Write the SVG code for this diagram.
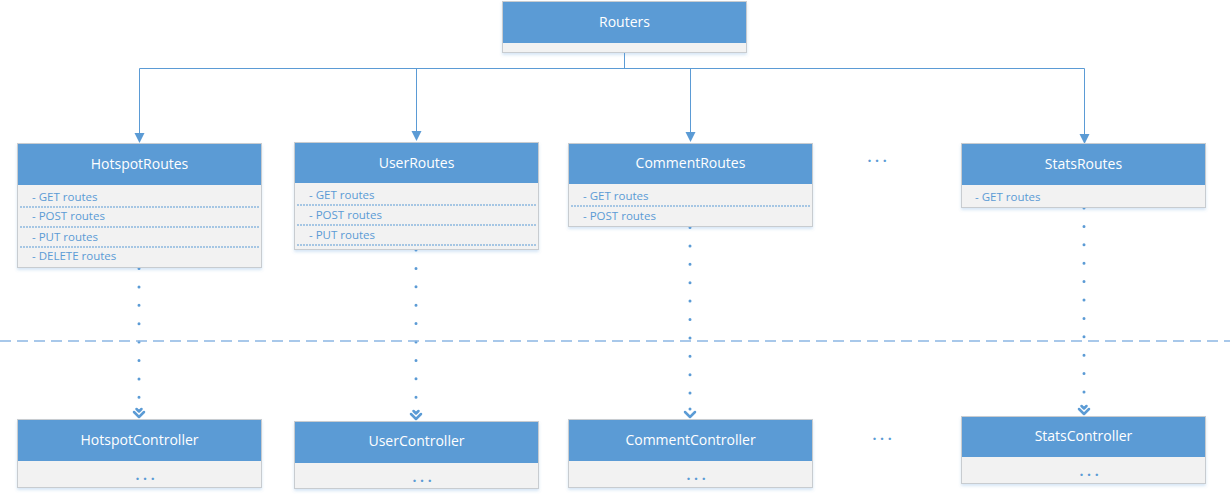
<svg xmlns="http://www.w3.org/2000/svg" width="1230" height="497" viewBox="0 0 1230 497">
<defs>
<style>
.hd{fill:#5B9BD5;}
.bd{fill:#F2F2F2;}
.fr{fill:none;stroke:#C8CCD0;stroke-width:1;}
.tt{font-family:"Open Sans","Noto Sans",sans-serif;font-size:14px;fill:#FFFFFF;text-anchor:middle;}
.rw{font-family:"Open Sans","Noto Sans",sans-serif;font-size:11.5px;fill:#5B9BD5;}
.el{font-family:"Open Sans","Noto Sans",sans-serif;font-size:14px;font-weight:bold;fill:#5B9BD5;text-anchor:middle;}
.sep{stroke:#5B9BD5;stroke-width:1;stroke-dasharray:2 1;}
.ln{fill:none;stroke:#5B9BD5;stroke-width:1;}
.dt{fill:none;stroke:#5B9BD5;stroke-width:3;stroke-linecap:round;stroke-dasharray:0 18.4;}
.dl{fill:none;stroke:#8CB6E4;stroke-width:1.5;stroke-dasharray:11 6;}
</style>
<filter id="sh" x="-5%" y="-10%" width="110%" height="130%">
<feDropShadow dx="0" dy="2" stdDeviation="1.5" flood-color="#5B9BD5" flood-opacity="0.25"/>
</filter>
</defs>
<rect width="1230" height="497" fill="#FFFFFF"/>

<g id="connectors">
<path class="ln" d="M624.5,53 V68.5 M139.5,68.5 H1084.5"/>
<path class="ln" d="M139.5,68.5 V134"/>
<path class="ln" d="M416.5,68.5 V132"/>
<path class="ln" d="M690.5,68.5 V133"/>
<path class="ln" d="M1084.5,68.5 V135"/>
<path d="M134.5,133 L144.5,133 L139.5,143 Z" fill="#5B9BD5"/>
<path d="M411.5,131 L421.5,131 L416.5,141 Z" fill="#5B9BD5"/>
<path d="M685.5,132 L695.5,132 L690.5,142 Z" fill="#5B9BD5"/>
<path d="M1079.5,134 L1089.5,134 L1084.5,144 Z" fill="#5B9BD5"/>
<path class="dt" d="M139,268.5 V400"/>
<path class="dt" d="M416,250 V401"/>
<path class="dt" d="M690,227.5 V399"/>
<path class="dt" d="M1084,208 V395"/>
<g fill="none" stroke="#5B9BD5" stroke-width="2.5" stroke-linecap="round" stroke-linejoin="round">
<path d="M134,412 L139,417 L144,412 M136.5,409 L139,411.5 L141.5,409"/>
<path d="M411,414 L416,419 L421,414 M413.5,411 L416,413.5 L418.5,411"/>
<path d="M685,412 L690,417 L695,412"/>
<path d="M1079,409 L1084,414 L1089,409 M1081.5,406 L1084,408.5 L1086.5,406"/>
</g>
<circle cx="690" cy="409" r="1.5" fill="#5B9BD5"/>
<path class="dl" d="M0,341 H1230"/>
</g>

<g id="routers">
<rect x="502" y="1" width="245" height="52" class="bd" filter="url(#sh)"/>
<rect x="502" y="1" width="245" height="42" class="hd"/>
<rect x="502.5" y="1.5" width="244" height="51" class="fr"/>
<text x="624.5" y="27" class="tt">Routers</text>
</g>

<g id="hotspotRoutes">
<rect x="17" y="143" width="245" height="125" class="bd" filter="url(#sh)"/>
<rect x="17" y="143" width="245" height="42" class="hd"/>
<rect x="17.5" y="143.5" width="244" height="124" class="fr"/>
<text x="139.5" y="169" class="tt">HotspotRoutes</text>
<text x="32" y="201" class="rw">- GET routes</text>
<line x1="20" y1="207" x2="259" y2="207" class="sep"/>
<text x="32" y="220" class="rw">- POST routes</text>
<line x1="20" y1="227" x2="259" y2="227" class="sep"/>
<text x="32" y="241" class="rw">- PUT routes</text>
<line x1="20" y1="247" x2="259" y2="247" class="sep"/>
<text x="32" y="260" class="rw">- DELETE routes</text>
</g>

<g id="userRoutes">
<rect x="294" y="142" width="245" height="108" class="bd" filter="url(#sh)"/>
<rect x="294" y="142" width="245" height="41" class="hd"/>
<rect x="294.5" y="142.5" width="244" height="107" class="fr"/>
<text x="416.5" y="168" class="tt">UserRoutes</text>
<text x="309" y="199" class="rw">- GET routes</text>
<line x1="297" y1="205" x2="536" y2="205" class="sep"/>
<text x="309" y="219" class="rw">- POST routes</text>
<line x1="297" y1="225" x2="536" y2="225" class="sep"/>
<text x="309" y="239" class="rw">- PUT routes</text>
<line x1="297" y1="245" x2="536" y2="245" class="sep"/>
</g>

<g id="commentRoutes">
<rect x="568" y="143" width="245" height="84" class="bd" filter="url(#sh)"/>
<rect x="568" y="143" width="245" height="41" class="hd"/>
<rect x="568.5" y="143.5" width="244" height="83" class="fr"/>
<text x="690.5" y="168" class="tt">CommentRoutes</text>
<text x="583" y="200" class="rw">- GET routes</text>
<line x1="571" y1="206" x2="810" y2="206" class="sep"/>
<text x="583" y="220" class="rw">- POST routes</text>
</g>

<g id="ellipsisTop">
<text x="877" y="162" class="el">. . .</text>
</g>

<g id="statsRoutes">
<rect x="961" y="143" width="245" height="65" class="bd" filter="url(#sh)"/>
<rect x="961" y="143" width="245" height="42" class="hd"/>
<rect x="961.5" y="143.5" width="244" height="64" class="fr"/>
<text x="1083.5" y="169" class="tt">StatsRoutes</text>
<text x="975" y="201" class="rw">- GET routes</text>
</g>

<g id="hotspotController">
<rect x="17" y="419" width="245" height="69" class="bd" filter="url(#sh)"/>
<rect x="17" y="419" width="245" height="42" class="hd"/>
<rect x="17.5" y="419.5" width="244" height="68" class="fr"/>
<text x="139.5" y="445" class="tt">HotspotController</text>
<text x="145" y="480" class="el">. . .</text>
</g>

<g id="userController">
<rect x="294" y="421" width="245" height="68" class="bd" filter="url(#sh)"/>
<rect x="294" y="421" width="245" height="42" class="hd"/>
<rect x="294.5" y="421.5" width="244" height="67" class="fr"/>
<text x="416.5" y="446" class="tt">UserController</text>
<text x="422" y="482" class="el">. . .</text>
</g>

<g id="commentController">
<rect x="568" y="419" width="245" height="69" class="bd" filter="url(#sh)"/>
<rect x="568" y="419" width="245" height="42" class="hd"/>
<rect x="568.5" y="419.5" width="244" height="68" class="fr"/>
<text x="690.5" y="445" class="tt">CommentController</text>
<text x="696" y="480" class="el">. . .</text>
</g>

<g id="ellipsisBottom">
<text x="882" y="440" class="el">. . .</text>
</g>

<g id="statsController">
<rect x="961" y="416" width="245" height="68" class="bd" filter="url(#sh)"/>
<rect x="961" y="416" width="245" height="41" class="hd"/>
<rect x="961.5" y="416.5" width="244" height="67" class="fr"/>
<text x="1083.5" y="441" class="tt">StatsController</text>
<text x="1089" y="476" class="el">. . .</text>
</g>
</svg>
